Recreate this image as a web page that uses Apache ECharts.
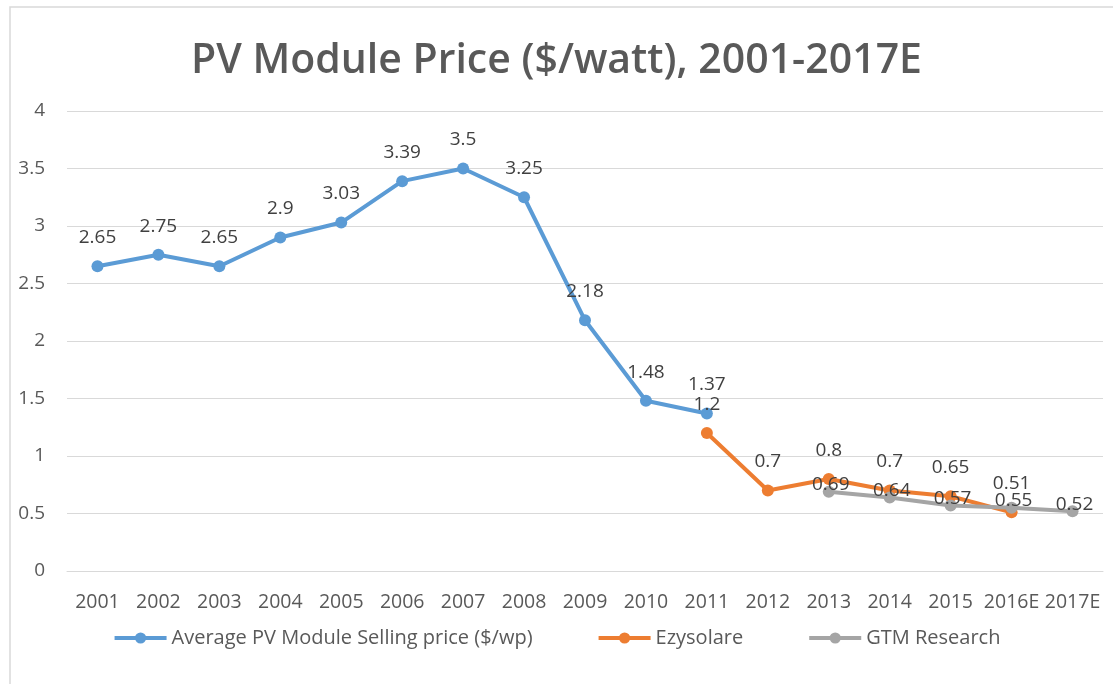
<!DOCTYPE html>
<html><head><meta charset="utf-8">
<script src="https://cdn.jsdelivr.net/npm/echarts@6/dist/echarts.min.js"></script>
<style>html,body{margin:0;padding:0;background:#fff}#c{width:1113px;height:684px}</style>
</head><body><div id="c"></div>
<script>
var categories = ['2001','2002','2003','2004','2005','2006','2007','2008','2009','2010','2011','2012','2013','2014','2015','2016E','2017E'];
var avgPrice = [2.65, 2.75, 2.65, 2.9, 3.03, 3.39, 3.5, 3.25, 2.18, 1.48, 1.37, null, null, null, null, null, null];
var ezysolare = [null, null, null, null, null, null, null, null, null, null, 1.2, 0.7, 0.8, 0.7, 0.65, 0.51, null];
var gtm = [null, null, null, null, null, null, null, null, null, null, null, null, 0.69, 0.64, 0.57, 0.55, 0.52];
var yTicks = [0, 0.5, 1, 1.5, 2, 2.5, 3, 3.5, 4];

var chart = echarts.init(document.getElementById('c'), null, {renderer: 'canvas'});
var labelFont = {fontFamily: 'Open Sans', fontSize: 19, color: '#404040'};
function mkSeries(name, data, color, labelPos) {
  return {
    name: name, type: 'line', data: data, connectNulls: false,
    symbol: 'circle', symbolSize: 12,
    lineStyle: {color: color, width: 4},
    itemStyle: {color: color},
    label: Object.assign({show: true, position: labelPos, distance: 13,
      formatter: function(p){ return p.value == null ? '' : String(p.value); }}, labelFont),
    emphasis: {disabled: true}
  };
}
var gtmSeries = mkSeries('GTM Research', gtm, '#A5A5A5', 'inside');
gtmSeries.label.offset = [2, -7];
chart.setOption({
  animation: false,
  title: {text: 'PV Module Price ($/watt), 2001-2017E', left: 'center', top: 36,
    textStyle: {fontFamily: 'Open Sans', fontSize: 41, fontWeight: 600, color: '#595959'}},
  graphic: [{type: 'rect', shape: {x: 10, y: 7, width: 1120, height: 720},
    style: {fill: 'none', stroke: '#D9D9D9', lineWidth: 1.5}, silent: true, z: -1}],
  grid: {left: 67, right: 10, top: 111, bottom: 113, containLabel: false},
  legend: {bottom: 31, left: 'center', itemWidth: 52, itemHeight: 14, itemGap: 64,
    lineStyle: {width: 4}, itemStyle: {},
    textStyle: {fontFamily: 'Open Sans', fontSize: 20, color: '#595959'},
    data: ['Average PV Module Selling price ($/wp)', 'Ezysolare', 'GTM Research']},
  xAxis: {type: 'category', data: categories, boundaryGap: true,
    axisLine: {show: true, lineStyle: {color: '#D9D9D9'}}, axisTick: {show: false},
    axisLabel: {fontFamily: 'Open Sans', fontSize: 19.5, color: '#595959', margin: 21, interval: 0}},
  yAxis: {type: 'value', min: yTicks[0], max: yTicks[yTicks.length-1], interval: 0.5,
    axisLine: {show: false}, axisTick: {show: false},
    axisLabel: {fontFamily: 'Open Sans', fontSize: 19, color: '#595959', margin: 22},
    splitLine: {lineStyle: {color: '#D9D9D9', width: 1}}},
  series: [
    mkSeries('Average PV Module Selling price ($/wp)', avgPrice, '#5B9BD5', 'top'),
    mkSeries('Ezysolare', ezysolare, '#ED7D31', 'top'),
    gtmSeries
  ]
});
</script></body></html>
